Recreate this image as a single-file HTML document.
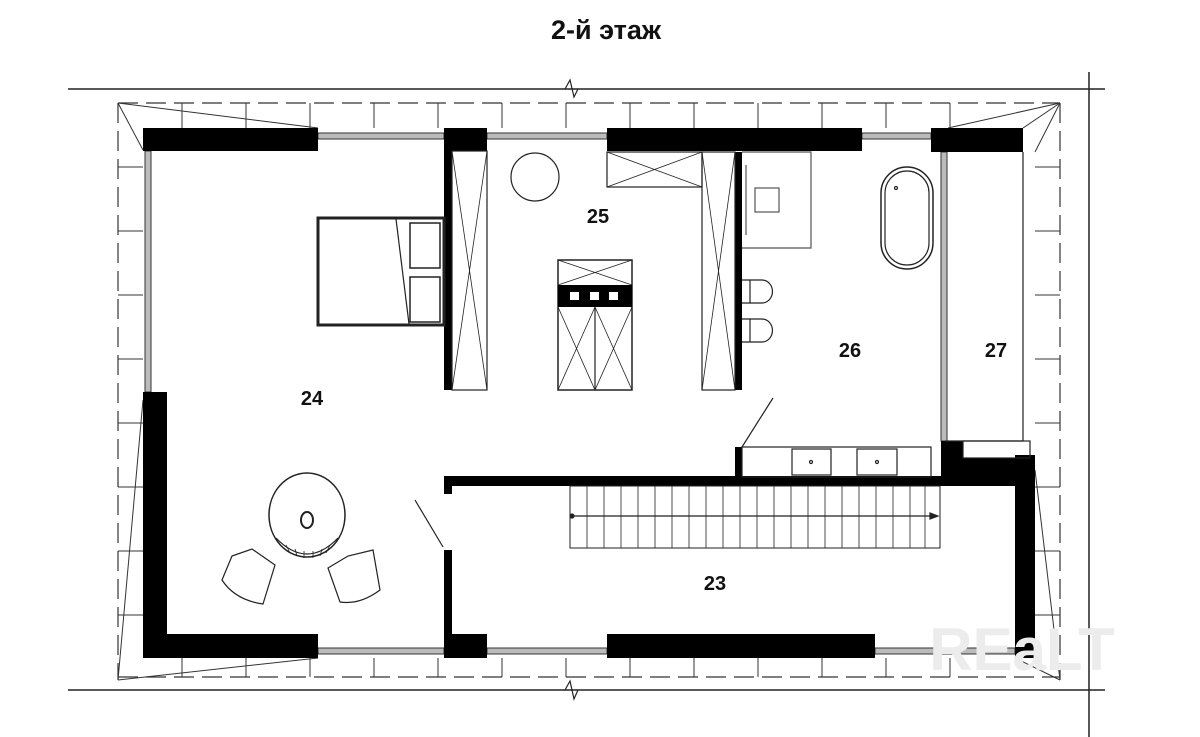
<!DOCTYPE html>
<html><head><meta charset="utf-8"><style>
html,body{margin:0;padding:0;background:#fff;}
svg{display:block;}
text{font-family:"Liberation Sans",sans-serif;font-weight:bold;}
</style></head><body>
<svg width="1200" height="737" viewBox="0 0 1200 737" xmlns="http://www.w3.org/2000/svg">
<rect width="1200" height="737" fill="#fff"/>
<text x="606" y="39" font-size="27" text-anchor="middle" fill="#111">2-й этаж</text>
<g stroke="#222" stroke-width="1.5" fill="none">
<line x1="68" y1="89" x2="1105" y2="89"/>
<line x1="68" y1="690" x2="1105" y2="690"/>
<line x1="1089" y1="72" x2="1089" y2="737"/>
<polyline points="565,89 570,80 574,97 578,89" stroke-width="1.2"/>
<polyline points="565,690 570,681 574,699 578,690" stroke-width="1.2"/>
</g>
<g stroke="#333" stroke-width="1.2" fill="none" stroke-dasharray="20,8">
<line x1="118" y1="103" x2="1060" y2="103"/>
<line x1="118" y1="103" x2="118" y2="680"/>
<line x1="1060" y1="103" x2="1060" y2="680"/>
<line x1="118" y1="677" x2="1060" y2="677"/>
</g>
<g stroke="#333" stroke-width="1">
<line x1="182" y1="103" x2="182" y2="128"/><line x1="246" y1="103" x2="246" y2="128"/>
<line x1="310" y1="103" x2="310" y2="128"/><line x1="374" y1="103" x2="374" y2="128"/>
<line x1="438" y1="103" x2="438" y2="128"/><line x1="502" y1="103" x2="502" y2="128"/>
<line x1="566" y1="103" x2="566" y2="128"/><line x1="630" y1="103" x2="630" y2="128"/>
<line x1="694" y1="103" x2="694" y2="128"/><line x1="758" y1="103" x2="758" y2="128"/>
<line x1="822" y1="103" x2="822" y2="128"/><line x1="886" y1="103" x2="886" y2="128"/>
<line x1="950" y1="103" x2="950" y2="128"/>
<line x1="118" y1="167" x2="143" y2="167"/><line x1="118" y1="231" x2="143" y2="231"/>
<line x1="118" y1="295" x2="143" y2="295"/><line x1="118" y1="359" x2="143" y2="359"/>
<line x1="118" y1="423" x2="143" y2="423"/><line x1="118" y1="487" x2="143" y2="487"/>
<line x1="118" y1="551" x2="143" y2="551"/><line x1="118" y1="615" x2="143" y2="615"/>
<line x1="1035" y1="167" x2="1060" y2="167"/><line x1="1035" y1="231" x2="1060" y2="231"/>
<line x1="1035" y1="295" x2="1060" y2="295"/><line x1="1035" y1="359" x2="1060" y2="359"/>
<line x1="1035" y1="423" x2="1060" y2="423"/><line x1="1035" y1="487" x2="1060" y2="487"/>
<line x1="1035" y1="551" x2="1060" y2="551"/><line x1="1035" y1="615" x2="1060" y2="615"/>
<line x1="182" y1="658" x2="182" y2="677"/><line x1="246" y1="658" x2="246" y2="677"/>
<line x1="310" y1="658" x2="310" y2="677"/><line x1="374" y1="658" x2="374" y2="677"/>
<line x1="438" y1="658" x2="438" y2="677"/><line x1="502" y1="658" x2="502" y2="677"/>
<line x1="566" y1="658" x2="566" y2="677"/><line x1="630" y1="658" x2="630" y2="677"/>
<line x1="694" y1="658" x2="694" y2="677"/><line x1="758" y1="658" x2="758" y2="677"/>
<line x1="822" y1="658" x2="822" y2="677"/><line x1="886" y1="658" x2="886" y2="677"/>
<line x1="950" y1="658" x2="950" y2="677"/>
<line x1="118" y1="103" x2="318" y2="128"/><line x1="118" y1="103" x2="143" y2="150"/>
<line x1="1060" y1="103" x2="1023" y2="128"/><line x1="1060" y1="103" x2="1035" y2="152"/>
<line x1="1060" y1="680" x2="1015" y2="658"/><line x1="1060" y1="680" x2="1035" y2="470"/>
<line x1="118" y1="680" x2="318" y2="658"/><line x1="118" y1="680" x2="143" y2="400"/>
<line x1="948" y1="128" x2="1060" y2="103"/>
</g>
<g fill="#bbb" stroke="#333" stroke-width="1">
<rect x="318" y="133" width="126" height="6"/>
<rect x="487" y="133" width="120" height="6"/>
<rect x="862" y="133" width="69" height="6"/>
<rect x="145" y="151" width="6" height="241"/>
<rect x="318" y="648" width="126" height="6"/>
<rect x="487" y="648" width="120" height="6"/>
<rect x="875" y="648" width="140" height="6"/>
<rect x="941" y="152" width="6" height="289"/>
</g>
<g fill="#000">
<rect x="143" y="128" width="175" height="23"/>
<rect x="444" y="128" width="43" height="23"/>
<rect x="444" y="151" width="8" height="239"/>
<rect x="607" y="128" width="255" height="23"/>
<rect x="931" y="128" width="92" height="24"/>
<rect x="735" y="152" width="7" height="238"/>
<rect x="143" y="392" width="24" height="266"/>
<rect x="143" y="634" width="175" height="24"/>
<rect x="444" y="476" width="591" height="10"/>
<rect x="444" y="476" width="8" height="18"/>
<rect x="444" y="550" width="8" height="90"/>
<rect x="444" y="634" width="43" height="24"/>
<rect x="607" y="634" width="268" height="24"/>
<rect x="1015" y="455" width="20" height="203"/>
<rect x="941" y="441" width="22" height="40"/>
<rect x="963" y="458" width="72" height="23"/>
<rect x="735" y="447" width="7" height="35"/>
</g>
<g stroke="#222" fill="none" stroke-width="1.2">
<rect x="963" y="441" width="67" height="17"/>
<line x1="1023" y1="152" x2="1023" y2="441"/>
<line x1="945" y1="441" x2="1023" y2="441"/>
<rect x="318" y="218" width="126" height="107" stroke-width="3"/>
<rect x="410" y="223" width="30" height="45" stroke-width="1.5"/>
<rect x="410" y="277" width="30" height="45" stroke-width="1.5"/>
<line x1="396" y1="219" x2="409" y2="324"/>
<rect x="452" y="151" width="35" height="239"/>
<line x1="452" y1="151" x2="487" y2="390" stroke-width="0.8"/><line x1="487" y1="151" x2="452" y2="390" stroke-width="0.8"/>
<rect x="702" y="152" width="33" height="238"/>
<line x1="702" y1="152" x2="735" y2="390" stroke-width="0.8"/><line x1="735" y1="152" x2="702" y2="390" stroke-width="0.8"/>
<rect x="607" y="152" width="95" height="35"/>
<line x1="607" y1="152" x2="702" y2="187" stroke-width="0.8"/><line x1="702" y1="152" x2="607" y2="187" stroke-width="0.8"/>
<circle cx="535" cy="177" r="24"/>
<rect x="558" y="260" width="74" height="130" stroke-width="1.5"/>
<line x1="558" y1="260" x2="632" y2="285" stroke-width="0.8"/><line x1="632" y1="260" x2="558" y2="285" stroke-width="0.8"/>
<line x1="595" y1="307" x2="595" y2="390"/>
<line x1="558" y1="307" x2="595" y2="390" stroke-width="0.8"/><line x1="595" y1="307" x2="558" y2="390" stroke-width="0.8"/>
<line x1="595" y1="307" x2="632" y2="390" stroke-width="0.8"/><line x1="632" y1="307" x2="595" y2="390" stroke-width="0.8"/>
<path d="M742 152 H811 V248 H742" stroke="#555"/>
<rect x="755" y="188" width="24" height="24" stroke="#555"/>
<line x1="746" y1="165" x2="746" y2="235" stroke="#555"/>
<rect x="881" y="167" width="52" height="102" rx="26" stroke-width="1.5"/>
<rect x="885" y="171" width="44" height="94" rx="22"/>
<circle cx="896" cy="188" r="1.5"/>
<path d="M742 280 H762 A10 11 0 0 1 762 303 H742"/><line x1="750" y1="280" x2="750" y2="303"/>
<path d="M742 319 H762 A10 11 0 0 1 762 342 H742"/><line x1="750" y1="319" x2="750" y2="342"/>
<rect x="742" y="447" width="189" height="30"/>
<rect x="792" y="449" width="39" height="26"/>
<rect x="857" y="449" width="40" height="26"/>
<circle cx="811" cy="462" r="1.5"/><circle cx="877" cy="462" r="1.5"/>
<line x1="742" y1="447" x2="773" y2="398"/>
<line x1="415" y1="500" x2="443" y2="547"/>
<rect x="570" y="486" width="370" height="62" stroke-width="1"/>
<line x1="572" y1="516" x2="935" y2="516"/>
<polygon points="938,516 930,513 930,519" fill="#222"/>
<circle cx="572" cy="516" r="2" fill="#222"/>
<ellipse cx="307" cy="515" rx="38" ry="42" stroke-width="1.5"/>
<path d="M276 538 Q307 570 338 538" />
<ellipse cx="307" cy="520" rx="6" ry="8" stroke-width="2"/>
<path d="M232 556 L252 549 L275 565 L263 604 Q235 600 222 580 Z"/>
<path d="M328 568 L348 556 L373 550 L380 590 Q360 605 340 602 Z"/>
</g>
<g stroke="#222" stroke-width="0.8">
<line x1="587" y1="486" x2="587" y2="548"/><line x1="604" y1="486" x2="604" y2="548"/>
<line x1="621" y1="486" x2="621" y2="548"/><line x1="638" y1="486" x2="638" y2="548"/>
<line x1="655" y1="486" x2="655" y2="548"/><line x1="672" y1="486" x2="672" y2="548"/>
<line x1="689" y1="486" x2="689" y2="548"/><line x1="706" y1="486" x2="706" y2="548"/>
<line x1="723" y1="486" x2="723" y2="548"/><line x1="740" y1="486" x2="740" y2="548"/>
<line x1="757" y1="486" x2="757" y2="548"/><line x1="774" y1="486" x2="774" y2="548"/>
<line x1="791" y1="486" x2="791" y2="548"/><line x1="808" y1="486" x2="808" y2="548"/>
<line x1="825" y1="486" x2="825" y2="548"/><line x1="842" y1="486" x2="842" y2="548"/>
<line x1="859" y1="486" x2="859" y2="548"/><line x1="876" y1="486" x2="876" y2="548"/>
<line x1="893" y1="486" x2="893" y2="548"/><line x1="910" y1="486" x2="910" y2="548"/>
<line x1="925" y1="486" x2="925" y2="548"/>
<line x1="286" y1="545" x2="290" y2="553"/><line x1="295" y1="549" x2="297" y2="556"/>
<line x1="304" y1="551" x2="304" y2="558"/><line x1="313" y1="551" x2="313" y2="558"/>
<line x1="322" y1="549" x2="320" y2="556"/><line x1="330" y1="545" x2="326" y2="553"/>
</g>
<rect x="558" y="285" width="74" height="22" fill="#000"/>
<rect x="570" y="292" width="9" height="8" fill="#fff"/>
<rect x="590" y="292" width="9" height="8" fill="#fff"/>
<rect x="609" y="292" width="9" height="8" fill="#fff"/>
<g font-size="20" fill="#111" text-anchor="middle">
<text x="312" y="405">24</text>
<text x="598" y="223">25</text>
<text x="850" y="357">26</text>
<text x="996" y="357">27</text>
<text x="715" y="590">23</text>
</g>
<text x="1022" y="670" font-size="60" fill="#ececec" text-anchor="middle" font-weight="normal">REaLT</text>
</svg>
</body></html>
